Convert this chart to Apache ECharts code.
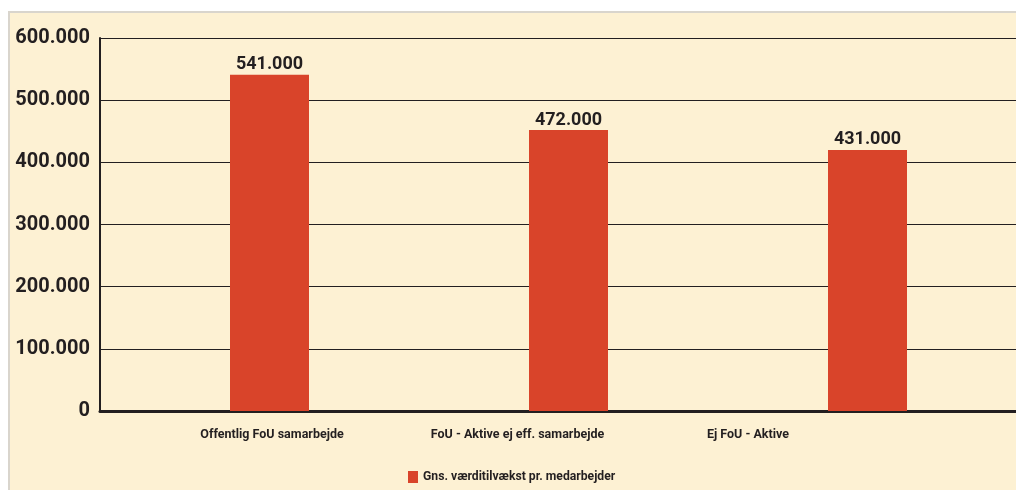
<!DOCTYPE html>
<html>
<head>
<meta charset="utf-8">
<script src="https://cdn.jsdelivr.net/npm/echarts@6/dist/echarts.min.js"></script>
<style>
  html, body { margin: 0; padding: 0; background: #fff; }
  .panel {
    position: absolute; left: 8px; top: 11px; right: 0; bottom: 0;
    background: #fdf1d3;
    border-left: 2px solid #d9d5cd;
    border-top: 2px solid #d9d5cd;
  }
  #chart { position: absolute; left: 0; top: 0; width: 1016px; height: 490px; }
</style>
</head>
<body>
<div class="panel"></div>
<div id="chart"></div>
<script>
// kategorier og værdier
const categories = ['Offentlig FoU samarbejde', 'FoU - Aktive ej eff. samarbejde', 'Ej FoU - Aktive']
const barValues = [541000, 452000, 420000]
const barLabels = ['541.000', '472.000', '431.000']
const seriesName = 'Gns. værditilvækst pr. medarbejder'
const yTicks = [0, 100000, 200000, 300000, 400000, 500000, 600000]

const FONT = "Roboto, 'Noto Sans', sans-serif"
const INK = '#231f20'
const BAR = '#d9442a'

// tusindtalsseparator med punktum
const fmt = v => String(Math.round(v)).replace(/\B(?=(\d{3})+(?!\d))/g, '.')

// forskydning af kategoritekster (som i originalen)
const labelStyles = ['c0', 'c1', 'c2']
const catText = { fontFamily: FONT, fontWeight: 'bold', fontSize: 12.5, color: INK }
const rich = {
  c0: { ...catText, padding: [0, 0, 0, 5] },
  c1: { ...catText, padding: [0, 102, 0, 0] },
  c2: { ...catText, padding: [0, 239, 0, 0] }
}

const chart = echarts.init(document.getElementById('chart'), null, { renderer: 'canvas' })

chart.setOption({
  backgroundColor: 'transparent',
  animation: false,
  textStyle: { fontFamily: FONT },
  grid: [
    { left: 100, width: 916, top: 38, bottom: 79, outerBoundsMode: 'none', containLabel: false },
    { left: 120, width: 897, top: 38, bottom: 79, outerBoundsMode: 'none', containLabel: false }
  ],
  legend: {
    left: 408,
    top: 471,
    padding: 0,
    icon: 'rect',
    itemWidth: 10,
    itemHeight: 12,
    textStyle: { fontFamily: FONT, fontWeight: 'bold', fontSize: 12.2, color: INK },
    data: [seriesName]
  },
  xAxis: [
    {
      gridIndex: 0,
      type: 'value',
      min: 0,
      max: 1,
      axisLine: { show: true, lineStyle: { color: INK, width: 3 } },
      axisTick: { show: false },
      axisLabel: { show: false },
      splitLine: { show: false }
    },
    {
      gridIndex: 1,
      type: 'category',
      data: categories,
      axisLine: { show: false },
      axisTick: { show: false },
      axisLabel: {
        margin: 17,
        interval: 0,
        formatter: (v, i) => '{' + labelStyles[i] + '|' + v + '}',
        rich
      }
    }
  ],
  yAxis: [
    {
      gridIndex: 0,
      type: 'value',
      min: yTicks[0],
      max: yTicks[yTicks.length - 1],
      interval: 100000,
      axisLine: { show: true, lineStyle: { color: INK, width: 2 } },
      axisTick: { show: false },
      axisLabel: {
        margin: 10,
        padding: [5, 0, 0, 0],
        fontFamily: FONT,
        fontWeight: 'bold',
        fontSize: 20,
        color: INK,
        formatter: v => fmt(v)
      },
      splitLine: { show: true, lineStyle: { color: INK, width: 1 } }
    },
    {
      gridIndex: 1,
      type: 'value',
      min: yTicks[0],
      max: yTicks[yTicks.length - 1],
      show: false
    }
  ],
  series: [
    {
      name: seriesName,
      type: 'bar',
      xAxisIndex: 1,
      yAxisIndex: 1,
      barWidth: 79,
      data: barValues,
      itemStyle: { color: BAR },
      label: {
        show: true,
        position: 'top',
        distance: 1,
        fontFamily: FONT,
        fontWeight: 'bold',
        fontSize: 18,
        color: INK,
        formatter: p => barLabels[p.dataIndex]
      }
    }
  ]
})
</script>
</body>
</html>
